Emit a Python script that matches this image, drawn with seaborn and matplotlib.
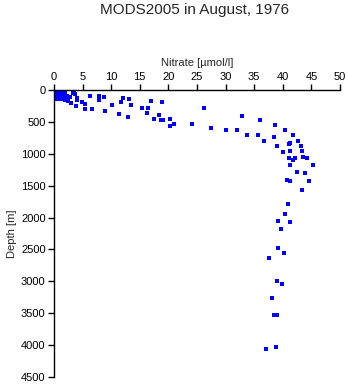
import matplotlib
matplotlib.use("Agg")
import matplotlib.pyplot as plt
import seaborn as sns
import pandas as pd

nitrate = [
    0.1, 0.2, 0.3, 0.5, 0.2, 0.4, 0.6, 0.8, 0.3, 0.5, 0.1, 1.0, 1.2, 0.9, 1.5,
    1.8, 1.3, 2.0, 2.2, 1.6, 0.7, 2.5, 2.3, 1.1, 1.9,
    3.5, 2.8, 4.0, 3.0, 3.8, 4.9, 5.5, 5.4, 6.7, 6.3, 7.9, 7.8, 8.8, 9.0, 3.4, 3.7, 4.1,
    10.2, 12.1, 11.8, 13.2, 13.4, 11.4, 13.0, 15.4, 16.4, 16.2, 16.9, 18.9, 18.3,
    17.5, 18.7, 19.1, 20.3, 20.3, 20.9, 24.2,
    26.3, 32.9, 36.1, 27.5, 30.1, 32.0, 38.7, 40.4, 33.7, 35.6, 36.8, 38.5, 41.7,
    42.7, 39.0, 41.0, 41.3, 43.2, 40.1, 41.3, 43.4, 41.0, 42.2, 41.8, 43.6, 44.3,
    45.3, 41.3, 42.5, 43.9,
    40.8, 41.3, 44.5, 43.4, 40.9, 40.4, 39.2, 41.3, 39.7,
    39.2, 40.2, 37.6, 39.0, 39.9, 38.2, 38.5, 39.0, 38.9, 37.1,
]
depth = [
    5, 20, 30, 10, 50, 60, 40, 75, 100, 125, 150, 20, 60, 110, 100,
    130, 150, 160, 110, 40, 150, 175, 90, 10, 30,
    47, 110, 162, 199, 256, 193, 219, 298, 298, 94, 89, 152, 105, 334, 52, 63, 125,
    230, 131, 193, 146, 240, 381, 428, 282, 287, 365, 172, 193, 387,
    460, 475, 475, 460, 564, 538, 538,
    287, 413, 475, 600, 627, 632, 553, 632, 710, 710, 804, 741, 710,
    794, 883, 851, 836, 883, 977, 961, 961, 1061, 1071, 1097, 1045, 1071,
    1181, 1181, 1290, 1306,
    1416, 1431, 1421, 1572, 1782, 1949, 2053, 2064, 2174,
    2471, 2555, 2638, 2999, 3046, 3255, 3527, 3527, 4023, 4060,
]

x_ticks = [0, 5, 10, 15, 20, 25, 30, 35, 40, 45, 50]
y_ticks = [0, 500, 1000, 1500, 2000, 2500, 3000, 3500, 4000, 4500]

df = pd.DataFrame({"Nitrate": nitrate, "Depth": depth})

sns.set_style("ticks")
plt.rcParams["font.family"] = ["Liberation Sans", "DejaVu Sans"]

fig = plt.figure(figsize=(3.48, 3.84), dpi=100)
ax = fig.add_axes([0.155, 0.018, 0.822, 0.748])
sns.scatterplot(data=df, x="Nitrate", y="Depth", ax=ax, color="#0000ff",
                marker="s", s=7, linewidth=0)

ax.set_xlim(0, 50)
ax.set_ylim(4500, 0)
ax.set_xticks(x_ticks)
ax.set_yticks(y_ticks)
ax.xaxis.tick_top()
ax.xaxis.set_label_position("top")
for s in ["right", "bottom"]:
    ax.spines[s].set_visible(False)
for s in ["left", "top"]:
    ax.spines[s].set_linewidth(1.0)
    ax.spines[s].set_color("black")
ax.tick_params(axis="both", labelsize=8, length=4, width=1, colors="black", pad=2)
ax.set_xlabel("Nitrate [µmol/l]", fontsize=8, labelpad=4)
ax.set_ylabel("Depth [m]", fontsize=8, labelpad=3)
fig.text(0.56, 0.973, "MODS2005 in August, 1976", ha="center", va="center", fontsize=11)

fig.savefig("out.png", dpi=100)
